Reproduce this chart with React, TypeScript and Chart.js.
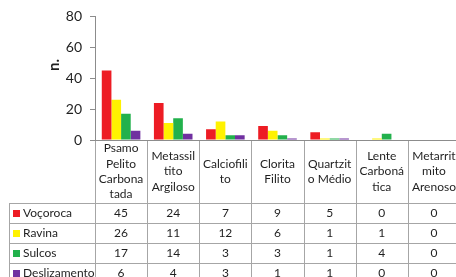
import React, { useEffect, useRef } from "react";
import { Chart, registerables } from "chart.js";

Chart.register(...registerables);

// ---- data ----
const categories: string[][] = [
  ["Psamo", "Pelito", "Carbona", "tada"],
  ["Metassil", "tito", "Argiloso"],
  ["Calciofili", "to"],
  ["Clorita", "Filito"],
  ["Quartzit", "o Médio"],
  ["Lente", "Carboná", "tica"],
  ["Metarrit", "mito", "Arenoso"],
];
const seriesNames = ["Voçoroca", "Ravina", "Sulcos", "Deslizamento"];
const vocoroca = [45, 24, 7, 9, 5, 0, 0];
const ravina = [26, 11, 12, 6, 1, 1, 0];
const sulcos = [17, 14, 3, 3, 1, 4, 0];
const deslizamento = [6, 4, 3, 1, 1, 0, 0];
const seriesValues = [vocoroca, ravina, sulcos, deslizamento];
const seriesColors = ["#ED1C24", "#FFF200", "#22B14C", "#7030A0"];
const yMin = 0;
const yMax = 80;
const yStep = 20;
const yTitle = "n.";

const FONT = "Lato, 'Liberation Sans', sans-serif";

const tablePlugin = {
  id: "dataTable",
  afterDraw(chart: any) {
    const ctx: CanvasRenderingContext2D = chart.ctx;
    const { left, right, bottom } = chart.chartArea;
    const xs = chart.scales.x;
    const n = categories.length;
    const w = (right - left) / n;
    const headerH = 63;
    const rowH = 20;
    const legendLeft = 9.5;
    const tableBottom = bottom + headerH + rowH * seriesNames.length;
    ctx.save();
    // grid lines
    ctx.strokeStyle = "#a6a6a6";
    ctx.lineWidth = 1;
    ctx.beginPath();
    for (let k = 0; k <= n; k++) {
      const x = Math.round(left + k * w) + 0.5;
      ctx.moveTo(x, bottom);
      ctx.lineTo(x, tableBottom);
    }
    ctx.moveTo(legendLeft, bottom + headerH);
    ctx.lineTo(legendLeft, tableBottom);
    for (let r = 0; r <= seriesNames.length; r++) {
      const y = Math.round(bottom + headerH + r * rowH) + 0.5;
      ctx.moveTo(legendLeft, y);
      ctx.lineTo(right, y);
    }
    ctx.stroke();
    // axis line
    ctx.strokeStyle = "#8c8c8c";
    ctx.beginPath();
    ctx.moveTo(left - 5, Math.round(bottom) + 0.5);
    ctx.lineTo(right, Math.round(bottom) + 0.5);
    ctx.stroke();

    // header text
    ctx.fillStyle = "#1f1f1f";
    ctx.font = `12px ${FONT}`;
    ctx.textAlign = "center";
    ctx.textBaseline = "middle";
    const lh = 15.3;
    categories.forEach((lines, i) => {
      const cx = xs.getPixelForValue(i);
      const cy = bottom + headerH / 2;
      const y0 = cy - ((lines.length - 1) * lh) / 2;
      lines.forEach((t, j) => ctx.fillText(t, cx, y0 + j * lh));
    });
    // rows
    seriesNames.forEach((name, r) => {
      const cy = bottom + headerH + r * rowH + rowH / 2;
      ctx.fillStyle = seriesColors[r];
      ctx.fillRect(13, Math.round(cy) - 3, 7, 7);
      ctx.fillStyle = "#1f1f1f";
      ctx.textAlign = "left";
      ctx.fillText(name, 23, cy);
      ctx.textAlign = "center";
      seriesValues[r].forEach((v, i) => {
        ctx.fillText(String(v), xs.getPixelForValue(i), cy);
      });
    });
    // y title
    ctx.translate(54, 65);
    ctx.rotate(-Math.PI / 2);
    ctx.font = `bold 15px ${FONT}`;
    ctx.fillStyle = "#1f1f1f";
    ctx.textAlign = "center";
    ctx.fillText(yTitle, 0, 0);
    ctx.restore();
  },
};

export default function App() {
  const ref = useRef<HTMLCanvasElement>(null);
  useEffect(() => {
    document.body.style.margin = "0";
    document.body.style.overflow = "hidden";
    const chart = new Chart(ref.current!, {
      type: "bar",
      data: {
        labels: categories.map((c) => c.join(" ")),
        datasets: seriesNames.map((name, i) => ({
          label: name,
          data: seriesValues[i],
          backgroundColor: seriesColors[i],
          borderWidth: 0,
          barPercentage: 1,
          categoryPercentage: 0.74,
        })),
      },
      options: {
        animation: false,
        responsive: false,
        devicePixelRatio: 1,
        layout: { padding: { top: 16, right: 2, bottom: 145, left: 0 } },
        plugins: { legend: { display: false }, tooltip: { enabled: false } },
        scales: {
          x: { display: false },
          y: {
            min: yMin,
            max: yMax,
            ticks: {
              stepSize: yStep,
              padding: 8,
              color: "#1f1f1f",
              font: { family: FONT, size: 14 },
            },
            grid: {
              drawOnChartArea: false,
              drawTicks: true,
              tickLength: 5,
              color: "#8c8c8c",
            },
            border: { display: true, color: "#8c8c8c" },
            afterFit: (s: any) => {
              s.width = 95;
            },
          },
        },
      },
      plugins: [tablePlugin],
    });
    return () => chart.destroy();
  }, []);
  return (
    <div style={{ width: 456, height: 277, overflow: "hidden", position: "relative" }}>
      <canvas ref={ref} width={462} height={285} style={{ display: "block" }} />
    </div>
  );
}
